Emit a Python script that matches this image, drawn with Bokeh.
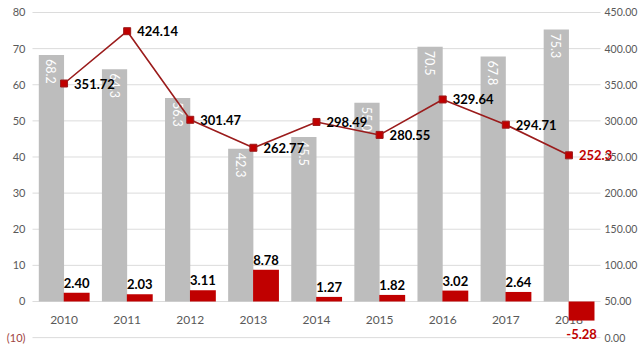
import math
from bokeh.plotting import figure
from bokeh.models import Range1d, ColumnDataSource
from bokeh.core.properties import value
from bokeh.embed import file_html
from bokeh.resources import INLINE

years = ["2010", "2011", "2012", "2013", "2014", "2015", "2016", "2017", "2018"]
gray_vals = [68.2, 64.3, 56.3, 42.3, 45.5, 55.0, 70.5, 67.8, 75.3]
red_vals = [2.40, 2.03, 3.11, 8.78, 1.27, 1.82, 3.02, 2.64, -5.28]
line_vals = [351.72, 424.14, 301.47, 262.77, 298.49, 280.55, 329.64, 294.71, 252.3]
left_ticks = [-10, 0, 10, 20, 30, 40, 50, 60, 70, 80]
left_tick_labels = ["(10)", "0", "10", "20", "30", "40", "50", "60", "70", "80"]
right_ticks = [0, 50, 100, 150, 200, 250, 300, 350, 400, 450]
right_tick_labels = ["0.00", "50.00", "100.00", "150.00", "200.00", "250.00",
                     "300.00", "350.00", "400.00", "450.00"]

FONT = "Lato"
GRAY = "#BDBDBD"
RED = "#C00000"
LINE = "#9B1C1C"
TICK = "#595959"

n = len(years)
xs = list(range(n))
X0, X1 = -0.5, n - 0.5  # category band edges

p = figure(width=640, height=355, output_backend="svg", toolbar_location=None,
           x_range=Range1d(-1.007, 9.134), y_range=Range1d(-14.95, 83.32),
           x_axis_location=None, y_axis_location=None,
           min_border=0)
p.outline_line_color = None
p.background_fill_color = "white"
p.xgrid.visible = False
p.ygrid.visible = False
p.extra_y_ranges = {"right": Range1d(-24.75, 466.6)}

# grid lines
p.segment(x0=[X0] * len(left_ticks), x1=[X1] * len(left_ticks), y0=left_ticks, y1=left_ticks,
          line_color="#DCDCDC", line_width=1)

# left tick labels
lcolors = ["#A0453F"] + [TICK] * (len(left_ticks) - 1)
p.text(x=[X0] * len(left_ticks), y=left_ticks, text=left_tick_labels, text_color=lcolors,
       x_offset=-7, text_align="right", text_baseline="middle",
       text_font=value(FONT), text_font_size="11px")
# right tick labels
p.text(x=[X1] * len(right_ticks), y=right_ticks, text=right_tick_labels, y_range_name="right",
       x_offset=4, text_align="left", text_baseline="middle", text_color=TICK,
       text_font=value(FONT), text_font_size="10.5px")

# category labels (drawn before bars so the 2018 bar covers them)
p.text(x=xs, y=[-5] * n, text=years, text_align="center", text_baseline="middle",
       text_font=value(FONT), text_font_size="12px", text_color=TICK)

gx = [x - 0.2 for x in xs]
rx = [x + 0.2 for x in xs]
p.vbar(x=gx, top=gray_vals, bottom=0, width=0.4, fill_color=GRAY, line_color=None)
p.vbar(x=rx, top=red_vals, bottom=0, width=0.41, fill_color=RED, line_color=None)

# gray bar labels rotated
p.text(x=gx, y=gray_vals, text=[f"{v:.1f}" for v in gray_vals], angle=-math.pi / 2,
       text_align="left", text_baseline="middle", y_offset=4,
       text_font=value(FONT), text_font_size="12.5px", text_color="white")

# red bar labels
pos = [i for i, v in enumerate(red_vals) if v >= 0]
neg = [i for i, v in enumerate(red_vals) if v < 0]
p.text(x=[rx[i] for i in pos], y=[red_vals[i] for i in pos],
       text=[f"{red_vals[i]:.2f}" for i in pos], text_align="center", text_baseline="bottom",
       y_offset=-5, text_font=value(FONT), text_font_size="13px", text_font_style="bold",
       text_color="black")
p.text(x=[rx[i] for i in neg], y=[red_vals[i] for i in neg],
       text=[f"{red_vals[i]:.2f}" for i in neg], text_align="center", text_baseline="top",
       y_offset=8, text_font=value(FONT), text_font_size="13px", text_font_style="bold",
       text_color=RED)

# line
p.line(x=xs, y=line_vals, y_range_name="right", line_color=LINE, line_width=1.6)
p.scatter(x=xs, y=line_vals, y_range_name="right", marker="square", size=7,
          fill_color=RED, line_color=LINE)
lbl = [f"{v:.2f}" for v in line_vals[:-1]] + ["252.3"]
colors = ["black"] * (n - 1) + [RED]
src = ColumnDataSource(dict(x=xs, y=line_vals, t=lbl, c=colors))
p.text(x="x", y="y", text="t", text_color="c", source=src, y_range_name="right",
       x_offset=10, text_align="left", text_baseline="middle",
       text_font=value(FONT), text_font_size="13px", text_font_style="bold")

open("out.html", "w").write(file_html(p, INLINE))
